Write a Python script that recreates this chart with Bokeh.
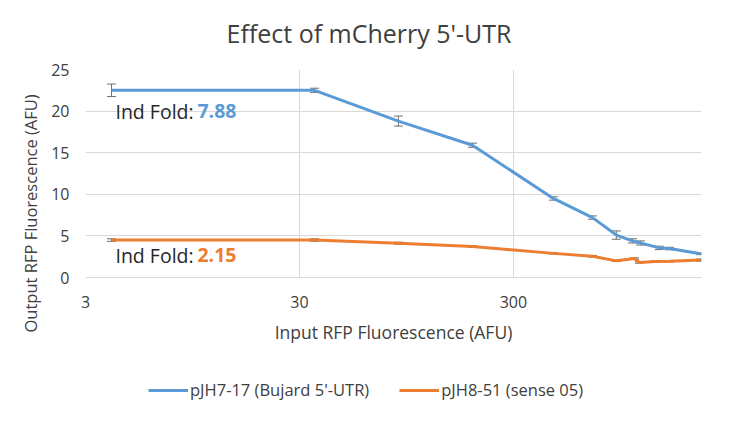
from bokeh.plotting import figure
from bokeh.layouts import column
from bokeh.models import (Range1d, FixedTicker, Whisker, TeeHead, ColumnDataSource,
                          Legend, LegendItem, Label, Title, BasicTickFormatter)
from bokeh.embed import file_html
from bokeh.resources import INLINE

# ---- data ----
title_text = "Effect of mCherry 5'-UTR"
x_title = "Input RFP Fluorescence (AFU)"
y_title = "Output RFP Fluorescence (AFU)"
x_ticks = [3, 30, 300]
x_tick_labels = ["3", "30", "300"]
y_ticks = [0, 5, 10, 15, 20, 25]

blue_name = "pJH7-17 (Bujard 5'-UTR)"
blue_x = [3.97, 35.3, 87.0, 193, 461, 702, 908, 1080, 1177, 1443, 1608, 2245]
blue_y = [22.5, 22.5, 18.8, 15.9, 9.5, 7.2, 5.1, 4.4, 4.15, 3.56, 3.48, 2.85]
blue_err = [0.75, 0.25, 0.6, 0.25, 0.2, 0.2, 0.5, 0.25, 0.25, 0.2, 0.15, 0.1]
blue_fold = "7.88"

orange_name = "pJH8-51 (sense 05)"
orange_x = [3.97, 35.3, 87.0, 193, 461, 702, 908, 1103, 1164, 1383, 1608, 2245]
orange_y = [4.5, 4.5, 4.12, 3.72, 2.9, 2.55, 2.0, 2.28, 1.8, 1.92, 1.95, 2.09]
orange_err = [0.15, 0.15, 0.12, 0.1, 0.08, 0.1, 0.08, 0.08, 0.08, 0.08, 0.08, 0.12]
orange_fold = "2.15"

BLUE = "#5B9BD5"
ORANGE = "#ED7D31"
TXT = "#404040"
GRID = "#D9D9D9"
ERR = "#6E6E6E"
FONT = "Open Sans"
W = 734


def blank(h):
    f = figure(width=W, height=h, x_range=Range1d(0, 1), y_range=Range1d(0, 1),
               output_backend="svg", toolbar_location=None,
               x_axis_location=None, y_axis_location=None,
               min_border=0)
    f.outline_line_color = None
    f.xgrid.visible = False
    f.ygrid.visible = False
    return f


# ---- title strip (its frame is aligned with the chart's frame) ----
head = blank(50)
head.add_layout(Label(x=141, y=18, x_units="screen", y_units="screen",
                      text=title_text, text_font=FONT, text_font_size="25px",
                      text_color=TXT, text_baseline="middle", text_align="left"))

# ---- main chart ----
p = figure(width=W, height=310, x_axis_type="log",
           x_range=Range1d(3, 2270), y_range=Range1d(0, 25),
           output_backend="svg", toolbar_location=None,
           min_border_left=85, min_border_right=33,
           min_border_top=19, min_border_bottom=83)
p.outline_line_color = None

xa = p.xaxis[0]
xa.ticker = FixedTicker(ticks=x_ticks)
xa.formatter = BasicTickFormatter()
xa.major_label_overrides = {t: l for t, l in zip(x_ticks, x_tick_labels)}
xa.axis_line_color = GRID
xa.major_tick_line_color = None
xa.minor_tick_line_color = None
xa.major_label_standoff = 12
xa.major_label_text_font = FONT
xa.major_label_text_font_size = "16px"
xa.major_label_text_color = TXT
xa.axis_label = x_title
xa.axis_label_text_font = FONT
xa.axis_label_text_font_size = "17.5px"
xa.axis_label_text_font_style = "normal"
xa.axis_label_text_color = TXT
xa.axis_label_standoff = 9

ya = p.yaxis[0]
ya.ticker = FixedTicker(ticks=y_ticks)
ya.axis_line_color = None
ya.major_tick_line_color = None
ya.minor_tick_line_color = None
ya.major_label_standoff = 10
ya.major_label_text_font = FONT
ya.major_label_text_font_size = "16px"
ya.major_label_text_color = TXT

# y-axis title as a side title, starting below the frame like the reference
p.add_layout(Title(text=y_title, align="left", offset=-55, standoff=14,
                   vertical_align="bottom", text_font=FONT,
                   text_font_size="16.5px", text_font_style="normal",
                   text_color=TXT), "left")

p.xgrid.ticker = FixedTicker(ticks=x_ticks)
p.ygrid.ticker = FixedTicker(ticks=y_ticks)
p.xgrid.grid_line_color = GRID
p.ygrid.grid_line_color = GRID


def series(xs, ys, es, color):
    src = ColumnDataSource(dict(x=xs, y=ys,
                                lo=[a - b for a, b in zip(ys, es)],
                                hi=[a + b for a, b in zip(ys, es)]))
    r = p.line("x", "y", source=src, line_color=color, line_width=3)
    w = Whisker(source=src, base="x", lower="lo", upper="hi", dimension="height",
                line_color=ERR, line_width=1,
                upper_head=TeeHead(size=9, line_color=ERR, line_width=1),
                lower_head=TeeHead(size=9, line_color=ERR, line_width=1))
    p.add_layout(w)
    return r


series(blue_x, blue_y, blue_err, BLUE)
series(orange_x, orange_y, orange_err, ORANGE)

for yv, num, col in [(20.0, blue_fold, BLUE), (2.7, orange_fold, ORANGE)]:
    p.add_layout(Label(x=4.14, y=yv, text="Ind Fold: ", text_font=FONT,
                       text_font_size="19.5px", text_color="#262626",
                       text_baseline="middle"))
    p.add_layout(Label(x=4.14, y=yv, x_offset=82, text=num, text_font=FONT,
                       text_font_size="19.5px", text_font_style="bold",
                       text_color=col, text_baseline="middle"))

# ---- legend strip (series drawn off-range, only their legend glyphs show) ----
foot = blank(49)
lb = foot.line(blue_x, blue_y, line_color=BLUE, line_width=3)
lo = foot.line(orange_x, orange_y, line_color=ORANGE, line_width=3)
legend = Legend(items=[LegendItem(label=blue_name, renderers=[lb]),
                       LegendItem(label=orange_name, renderers=[lo])],
                orientation="horizontal", location=(63, 8),
                glyph_width=40, glyph_height=20, label_standoff=2, spacing=30,
                padding=4, margin=0,
                label_text_font=FONT, label_text_font_size="16.5px",
                label_text_color=TXT,
                border_line_color=None, background_fill_alpha=0)
foot.add_layout(legend)

layout = column(head, p, foot, spacing=0)
open("out.html", "w").write(file_html(layout, INLINE))
